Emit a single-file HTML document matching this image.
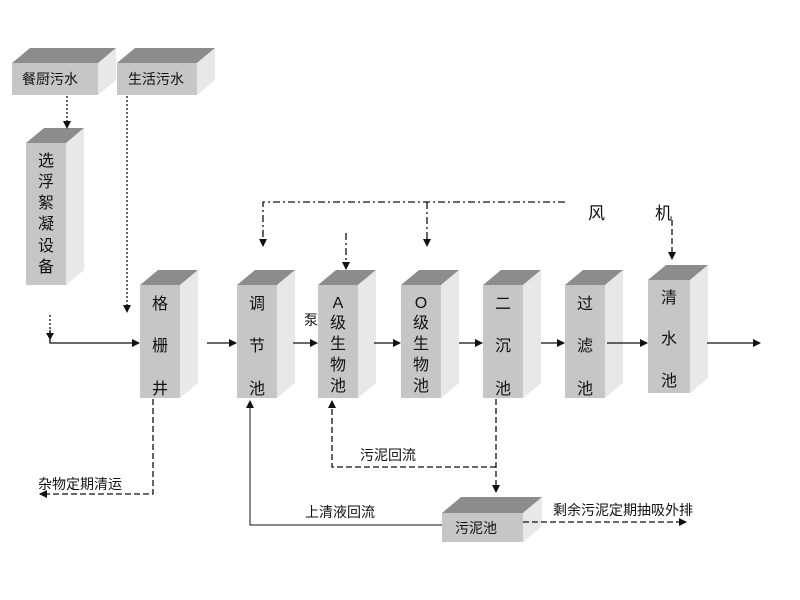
<!DOCTYPE html>
<html><head><meta charset="utf-8"><style>
html,body{margin:0;padding:0;background:#fff;}
svg{display:block;}
text{font-family:"Liberation Sans","Noto Sans CJK SC",sans-serif;fill:#111;}
.f{fill:#c6c6c6}.t{fill:#8c8c8c}.s{fill:#e8e8e8}
.ln{stroke:#111;stroke-width:1.3;fill:none}
.dash{stroke-dasharray:6,3}
.dd{stroke-dasharray:7,3,2,3}
.dot{stroke-dasharray:2,2}
</style></head><body>
<svg width="800" height="600" viewBox="0 0 800 600" xmlns="http://www.w3.org/2000/svg">
<defs><marker id="a" markerWidth="8" markerHeight="8" refX="7" refY="4" orient="auto" markerUnits="userSpaceOnUse"><path d="M0,0 L8,4 L0,8 z" fill="#111"/></marker></defs>

<g>
<polygon class="t" points="12,63 30,48 116,48 98,63"/><polygon class="s" points="98,63 116,48 116,80 98,95"/><rect class="f" x="12" y="63" width="86" height="32"/>
<polygon class="t" points="117,63 135,48 215,48 197,63"/><polygon class="s" points="197,63 215,48 215,80 197,95"/><rect class="f" x="117" y="63" width="80" height="32"/>
<polygon class="t" points="26,143 44,128 84,128 66,143"/><polygon class="s" points="66,143 84,128 84,270 66,285"/><rect class="f" x="26" y="143" width="40" height="142"/>
<polygon class="t" points="140,285 158,270 198,270 180,285"/><polygon class="s" points="180,285 198,270 198,383 180,398"/><rect class="f" x="140" y="285" width="40" height="113"/>
<polygon class="t" points="237,285 255,270 295,270 277,285"/><polygon class="s" points="277,285 295,270 295,383 277,398"/><rect class="f" x="237" y="285" width="40" height="113"/>
<polygon class="t" points="318,285 336,270 376,270 358,285"/><polygon class="s" points="358,285 376,270 376,383 358,398"/><rect class="f" x="318" y="285" width="40" height="113"/>
<polygon class="t" points="401,285 419,270 459,270 441,285"/><polygon class="s" points="441,285 459,270 459,383 441,398"/><rect class="f" x="401" y="285" width="40" height="113"/>
<polygon class="t" points="483,285 501,270 541,270 523,285"/><polygon class="s" points="523,285 541,270 541,383 523,398"/><rect class="f" x="483" y="285" width="40" height="113"/>
<polygon class="t" points="565,285 583,270 623,270 605,285"/><polygon class="s" points="605,285 623,270 623,383 605,398"/><rect class="f" x="565" y="285" width="40" height="113"/>
<polygon class="t" points="648,280 666,265 708,265 690,280"/><polygon class="s" points="690,280 708,265 708,378 690,393"/><rect class="f" x="648" y="280" width="42" height="113"/>
<polygon class="t" points="442,513 461,497 542,497 523,513"/><polygon class="s" points="523,513 542,497 542,526 523,542"/><rect class="f" x="442" y="513" width="81" height="29"/>
</g>

<g font-size="14">
<text x="22" y="84">餐厨污水</text>
<text x="128" y="84">生活污水</text>
<text x="455" y="533">污泥池</text>
</g>
<g font-size="16" text-anchor="middle">
<text x="46" y="166">选</text><text x="46" y="187">浮</text><text x="46" y="208">絮</text><text x="46" y="229">凝</text><text x="46" y="251">设</text><text x="46" y="272">备</text>
<text x="160" y="309">格</text><text x="160" y="351">栅</text><text x="160" y="394">井</text>
<text x="257" y="309">调</text><text x="257" y="351">节</text><text x="257" y="394">池</text>
<text x="338" y="308">A</text><text x="338" y="328">级</text><text x="338" y="349">生</text><text x="338" y="370">物</text><text x="338" y="391">池</text>
<text x="421" y="308">O</text><text x="421" y="328">级</text><text x="421" y="349">生</text><text x="421" y="370">物</text><text x="421" y="391">池</text>
<text x="503" y="309">二</text><text x="503" y="351">沉</text><text x="503" y="394">池</text>
<text x="585" y="309">过</text><text x="585" y="351">滤</text><text x="585" y="394">池</text>
<text x="669" y="303">清</text><text x="669" y="344">水</text><text x="669" y="386">池</text>
</g>
<g font-size="14">
<text x="304" y="325">泵</text>
<text x="360" y="460">污泥回流</text>
<text x="305" y="517">上清液回流</text>
<text x="553" y="515">剩余污泥定期抽吸外排</text>
<text x="38" y="489">杂物定期清运</text>
</g>
<g font-size="17"><text x="588" y="219">风</text><text x="655" y="219">机</text></g>

<path class="ln dot" d="M67,96 V128" marker-end="url(#a)"/>
<path class="ln dot" d="M127,96 V312" marker-end="url(#a)"/>
<path class="ln dot" d="M50,315 V335"/>
<path class="ln" d="M50,330 V343 H139" marker-end="url(#a)"/>
<polygon points="46,333 54,333 50,340" fill="#111"/>
<path class="ln" d="M207,343 H236" marker-end="url(#a)"/>
<path class="ln" d="M293,343 H317" marker-end="url(#a)"/>
<path class="ln" d="M374,343 H400" marker-end="url(#a)"/>
<path class="ln" d="M459,343 H482" marker-end="url(#a)"/>
<path class="ln" d="M541,343 H564" marker-end="url(#a)"/>
<path class="ln" d="M607,343 H647" marker-end="url(#a)"/>
<path class="ln" d="M707,343 H760" marker-end="url(#a)"/>
<path class="ln dd" d="M565,202 H263 V246" marker-end="url(#a)"/>
<path class="ln dd" d="M427,202 V246" marker-end="url(#a)"/>
<path class="ln dd" d="M346,233 V269" marker-end="url(#a)"/>
<path class="ln dash" d="M672,220 V259" marker-end="url(#a)"/>
<path class="ln dash" d="M496,399 V492" marker-end="url(#a)"/>
<path class="ln dash" d="M496,467 H332 V401" marker-end="url(#a)"/>
<path class="ln" style="stroke-width:1" d="M442,525 H250 V401" marker-end="url(#a)"/>
<path class="ln dash" d="M523,522 H686" marker-end="url(#a)"/>
<path class="ln dash" d="M153,399 V494 H40" marker-end="url(#a)"/>
</svg>
</body></html>
